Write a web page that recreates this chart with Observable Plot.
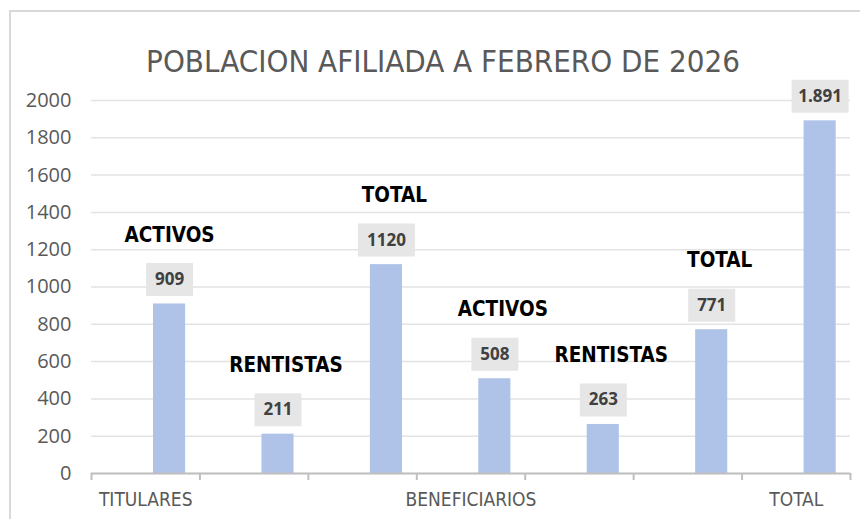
<!DOCTYPE html>
<html>
<head>
<meta charset="utf-8">
<script src="https://cdn.jsdelivr.net/npm/d3@7"></script>
<script src="https://cdn.jsdelivr.net/npm/@observablehq/plot@0.6"></script>
<style>
  html, body { margin: 0; padding: 0; background: #fff; overflow: hidden; }
  #page { position: relative; width: 860px; height: 519px; }
  #frame { position: absolute; left: 9px; top: 10px; width: 900px; height: 600px;
           border-left: 2px solid #d9d9d9; border-top: 2px solid #d9d9d9; }
  #title { position: absolute; left: 0; top: 0; width: 886px; height: 80px; box-sizing: border-box;
           padding-top: 46px; line-height: 31px; text-align: center;
           font-family: "Liberation Sans Narrow", "DejaVu Sans Condensed", sans-serif;
           font-size: 31px; color: #595959; font-weight: 400; }
  #chart { position: absolute; left: 0; top: 80px; }
  svg { overflow: visible; }
</style>
</head>
<body>
<div id="page">
  <div id="frame"></div>
  <div id="title">POBLACION AFILIADA A FEBRERO DE 2026</div>
  <div id="chart"></div>
</div>
<script>
const categories = ["ACTIVOS", "RENTISTAS", "TOTAL", "ACTIVOS", "RENTISTAS", "TOTAL", ""];
const values = [909, 211, 1120, 508, 263, 771, 1891];
const valueLabels = ["909", "211", "1120", "508", "263", "771", "1.891"];
const groupLabels = ["TITULARES", "", "", "BENEFICIARIOS", "", "", "TOTAL"];
const yTicks = [0, 200, 400, 600, 800, 1000, 1200, 1400, 1600, 1800, 2000];

const data = values.map((v, i) => ({i, value: v, cat: categories[i], label: valueLabels[i]}));

// style constants (in band units)
const shift = 0.22, half = 0.148;
const barCenter = d => d.i + 0.5 + shift;

function boxSymbol(w, h) {
  return { draw(ctx) { ctx.rect(-w / 2, -h / 2, w, h); } };
}

const narrow = "'Liberation Sans Narrow', 'DejaVu Sans Condensed', sans-serif";
const humanist = "'Open Sans', 'Liberation Sans', sans-serif";

const plot = Plot.plot({
  width: 860,
  height: 439,
  marginLeft: 91,
  marginRight: 10,
  marginTop: 20,
  marginBottom: 46,
  style: {background: "transparent", color: "#595959", overflow: "visible"},
  x: {type: "linear", domain: [0, 7], axis: null},
  y: {domain: [0, 2000], axis: null},
  marks: [
    Plot.gridY(yTicks, {stroke: "#e3e3e3", strokeOpacity: 1, strokeWidth: 1.5}),
    Plot.axisY({ticks: yTicks, tickSize: 0, tickPadding: 20, tickFormat: d => String(d), label: null,
                fontSize: 20, fontFamily: humanist, fill: "#595959"}),
    Plot.rectY(data, {x1: d => barCenter(d) - half, x2: d => barCenter(d) + half, y: "value", fill: "#aec3e7"}),
    Plot.ruleY([0], {stroke: "#bfbfbf", strokeWidth: 2}),
    Plot.axisX({ticks: d3.range(8), tickSize: 7, tickFormat: () => "", label: null, stroke: "#bfbfbf", strokeWidth: 2}),
    Plot.axisX({ticks: d3.range(7).map(i => i + 0.5), tickSize: 0, tickPadding: 19, label: null,
                tickFormat: v => groupLabels[Math.floor(v)], fontSize: 19, fontFamily: narrow, fill: "#595959"}),
    Plot.dot(data.filter(d => d.label.length === 3), {x: barCenter, y: "value", dy: -24.5, r: 1,
             symbol: boxSymbol(47, 33), fill: "#e6e6e6", stroke: null}),
    Plot.dot(data.filter(d => d.label.length > 3), {x: barCenter, y: "value", dy: -24.5, r: 1,
             symbol: boxSymbol(57, 33), fill: "#e6e6e6", stroke: null}),
    Plot.text(data, {x: barCenter, y: "value", text: "label", dy: -24.5, fontSize: 17, fontWeight: "bold",
                     fontFamily: humanist, fill: "#404040"}),
    Plot.text(data.filter(d => d.i === 0), {x: barCenter, y: "value", text: "cat", dy: -69, fontSize: 20.5,
                     fontWeight: "bold", fontFamily: narrow, fill: "#000"}),
    Plot.text(data.filter(d => d.i > 0), {x: barCenter, y: "value", text: "cat", dy: -69, dx: 8, fontSize: 20.5,
                     fontWeight: "bold", fontFamily: narrow, fill: "#000"})
  ]
});
document.getElementById("chart").appendChild(plot);
</script>
</body>
</html>
